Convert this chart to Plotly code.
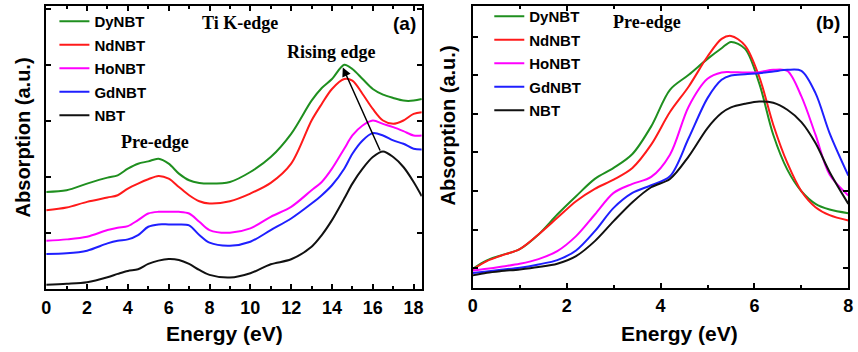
import plotly.graph_objects as go

# ---------------- Panel (a): Ti K-edge ----------------
energy_a = [0, 1, 2, 3, 3.5, 4, 4.5, 5, 5.5, 6, 6.5, 7, 7.5, 8, 9, 10, 11, 12, 13, 13.5,
            14, 14.6, 15, 15.5, 16, 16.5, 17, 17.5, 18, 18.4]
dy_a = [2.93, 2.98, 3.18, 3.36, 3.43, 3.63, 3.78, 3.85, 3.93, 3.78, 3.48, 3.28, 3.20, 3.18, 3.23,
        3.53, 3.98, 4.68, 5.68, 6.06, 6.33, 6.76, 6.63, 6.33, 6.03, 5.86, 5.76, 5.68, 5.68, 5.73]
nd_a = [2.38, 2.46, 2.63, 2.76, 2.83, 3.03, 3.18, 3.31, 3.41, 3.33, 3.08, 2.83, 2.65, 2.58, 2.65,
        2.88, 3.20, 3.78, 5.08, 5.58, 6.03, 6.33, 6.28, 5.88, 5.43, 5.08, 4.98, 5.08, 5.28, 5.33]
ho_a = [1.46, 1.50, 1.58, 1.78, 1.85, 1.90, 2.08, 2.28, 2.33, 2.33, 2.33, 2.28, 2.03, 1.78, 1.70,
        1.83, 2.18, 2.48, 2.98, 3.23, 3.63, 4.23, 4.63, 4.93, 5.08, 4.98, 4.88, 4.76, 4.63, 4.63]
gd_a = [1.06, 1.08, 1.16, 1.38, 1.46, 1.50, 1.63, 1.88, 1.95, 1.95, 1.95, 1.92, 1.63, 1.40, 1.31,
        1.43, 1.78, 2.13, 2.58, 2.83, 3.13, 3.63, 4.08, 4.48, 4.70, 4.63, 4.48, 4.38, 4.23, 4.21]
nbt_a = [0.13, 0.16, 0.21, 0.36, 0.46, 0.55, 0.60, 0.76, 0.86, 0.91, 0.88, 0.76, 0.58, 0.43, 0.35,
         0.48, 0.75, 0.90, 1.28, 1.63, 2.08, 2.73, 3.18, 3.63, 3.98, 4.15, 3.98, 3.68, 3.23, 2.80]

# ---------------- Panel (b): Pre-edge ----------------
energy_b = [0, 0.3, 0.6, 1.0, 1.4, 1.8, 2.2, 2.6, 3.0, 3.4, 3.8, 4.2, 4.6, 5.0, 5.3, 5.5, 5.8,
            6.1, 6.4, 6.7, 7.0, 7.3, 7.6, 8.0]
dy_b = [0.57, 0.82, 0.97, 1.16, 1.60, 2.20, 2.75, 3.27, 3.60, 4.02, 4.85, 5.95, 6.40, 6.88, 7.20,
        7.39, 7.18, 6.15, 4.60, 3.55, 2.90, 2.52, 2.35, 2.24]
nd_b = [0.55, 0.80, 0.96, 1.16, 1.60, 2.10, 2.60, 2.97, 3.25, 3.60, 4.30, 5.28, 6.05, 6.95, 7.48,
        7.57, 7.28, 6.35, 4.90, 3.75, 2.90, 2.42, 2.18, 2.02]
ho_b = [0.52, 0.57, 0.63, 0.72, 0.86, 1.10, 1.55, 2.20, 2.85, 3.12, 3.33, 4.00, 5.45, 6.28, 6.47,
        6.48, 6.47, 6.48, 6.55, 6.52, 5.75, 4.60, 3.40, 2.77]
gd_b = [0.44, 0.49, 0.54, 0.60, 0.70, 0.83, 1.12, 1.70, 2.40, 2.85, 3.08, 3.35, 4.50, 5.70, 6.25,
        6.38, 6.42, 6.45, 6.50, 6.55, 6.52, 5.85, 4.65, 3.37]
nbt_b = [0.37, 0.45, 0.50, 0.55, 0.62, 0.72, 0.95, 1.40, 2.00, 2.57, 3.02, 3.27, 3.95, 4.80, 5.25,
         5.42, 5.53, 5.60, 5.56, 5.35, 4.98, 4.35, 3.48, 2.52]

names = ["DyNBT", "NdNBT", "HoNBT", "GdNBT", "NBT"]
colors = ["#1f8f1f", "#ff1a1a", "#ff00ff", "#1f1fff", "#111111"]
series_a = [dy_a, nd_a, ho_a, gd_a, nbt_a]
series_b = [dy_b, nd_b, ho_b, gd_b, nbt_b]

SANS = "Liberation Sans"
SERIF = "Liberation Serif"

fig = go.Figure()
for n, c, ys in zip(names, colors, series_a):
    fig.add_trace(go.Scatter(x=energy_a, y=ys, name=n, mode="lines", legendgroup="a" + n,
                             line=dict(color=c, width=2, shape="spline", smoothing=0.9),
                             xaxis="x", yaxis="y", legend="legend"))
for n, c, ys in zip(names, colors, series_b):
    fig.add_trace(go.Scatter(x=energy_b, y=ys, name=n, mode="lines", legendgroup="b" + n,
                             line=dict(color=c, width=2, shape="spline", smoothing=0.9),
                             xaxis="x2", yaxis="y2", legend="legend2"))

W, H = 858, 352
def px(x):
    return x / W
def py(y):
    return 1 - y / H

tickfont = dict(family=SANS, size=18, color="black", weight="bold")
common_x = dict(showline=True, linecolor="black", linewidth=2, mirror="ticks",
                ticks="inside", ticklen=5, tickwidth=1.5, tickcolor="black",
                showgrid=False, zeroline=False, tickfont=tickfont, ticklabelstandoff=1,
                minor=dict(ticks="inside", ticklen=3, tickwidth=1.5, tickcolor="black", dtick=1))
common_y = dict(showline=True, linecolor="black", linewidth=2, mirror="ticks",
                ticks="inside", ticklen=5, tickwidth=1.5, tickcolor="black",
                showgrid=False, zeroline=False, showticklabels=False)

legfont = dict(family=SANS, size=15, weight="bold", color="black")
fig.update_layout(
    width=W, height=H, margin=dict(l=0, r=0, t=0, b=0),
    paper_bgcolor="white", plot_bgcolor="white",
    xaxis=dict(domain=[px(41.7), px(421.7)], range=[0, 18.4], dtick=2, tick0=0,
               anchor="y", **common_x),
    yaxis=dict(domain=[py(289), py(5)], range=[0, 8.53], tick0=0, dtick=1.69, anchor="x", **common_y),
    xaxis2=dict(domain=[px(473.3), px(853.3)], range=[0, 8], dtick=2, tick0=0,
                anchor="y2", **common_x),
    yaxis2=dict(domain=[py(287.5), py(5)], range=[0, 8.47], tick0=0.58, dtick=1.162, anchor="x2", **common_y),
    legend=dict(x=px(50), y=py(4), xanchor="left", yanchor="top", bgcolor="rgba(0,0,0,0)",
                font=legfont, traceorder="grouped", tracegroupgap=1),
    legend2=dict(x=px(490), y=py(-1), xanchor="left", yanchor="top", bgcolor="rgba(0,0,0,0)",
                 font=legfont, traceorder="grouped", tracegroupgap=1),
    showlegend=True,
)

ann_serif = dict(family=SERIF, size=18, weight="bold", color="black")
ann_sans = dict(family=SANS, size=19, weight="bold", color="black")
title_font = dict(family=SANS, size=21, weight="bold", color="black")
ytitle_font = dict(family=SANS, size=20, weight="bold", color="black")
annotations = [
    dict(text="Ti K-edge", x=9.5, y=8.02, xref="x", yref="y", showarrow=False, font=ann_serif),
    dict(text="Rising edge", x=13.97, y=7.15, xref="x", yref="y", showarrow=False, font=ann_serif),
    dict(text="Pre-edge", x=5.34, y=4.42, xref="x", yref="y", showarrow=False, font=ann_serif),
    dict(text="(a)", x=17.55, y=8.0, xref="x", yref="y", showarrow=False, font=ann_sans),
    dict(text="Pre-edge", x=3.72, y=7.99, xref="x2", yref="y2", showarrow=False, font=ann_serif),
    dict(text="(b)", x=7.57, y=7.96, xref="x2", yref="y2", showarrow=False, font=ann_sans),
    dict(text="", x=14.53, y=6.68, ax=16.39, ay=4.13, xref="x", yref="y", axref="x", ayref="y",
         showarrow=True, arrowhead=2, arrowsize=1.2, arrowwidth=1.5, arrowcolor="black"),
    dict(text="Energy (eV)", x=px(222.5), y=py(333), xref="paper", yref="paper", showarrow=False,
         xanchor="center", yanchor="middle", font=title_font),
    dict(text="Energy (eV)", x=px(682), y=py(333), xref="paper", yref="paper", showarrow=False,
         xanchor="center", yanchor="middle", font=title_font),
    dict(text="Absorption (a.u.)", x=px(18), y=py(137), xref="paper", yref="paper", showarrow=False,
         xanchor="center", yanchor="middle", textangle=-90, font=ytitle_font),
    dict(text="Absorption (a.u.)", x=px(448), y=py(125), xref="paper", yref="paper", showarrow=False,
         xanchor="center", yanchor="middle", textangle=-90, font=ytitle_font),
]
fig.update_layout(annotations=annotations)

fig.write_html("out.html")
